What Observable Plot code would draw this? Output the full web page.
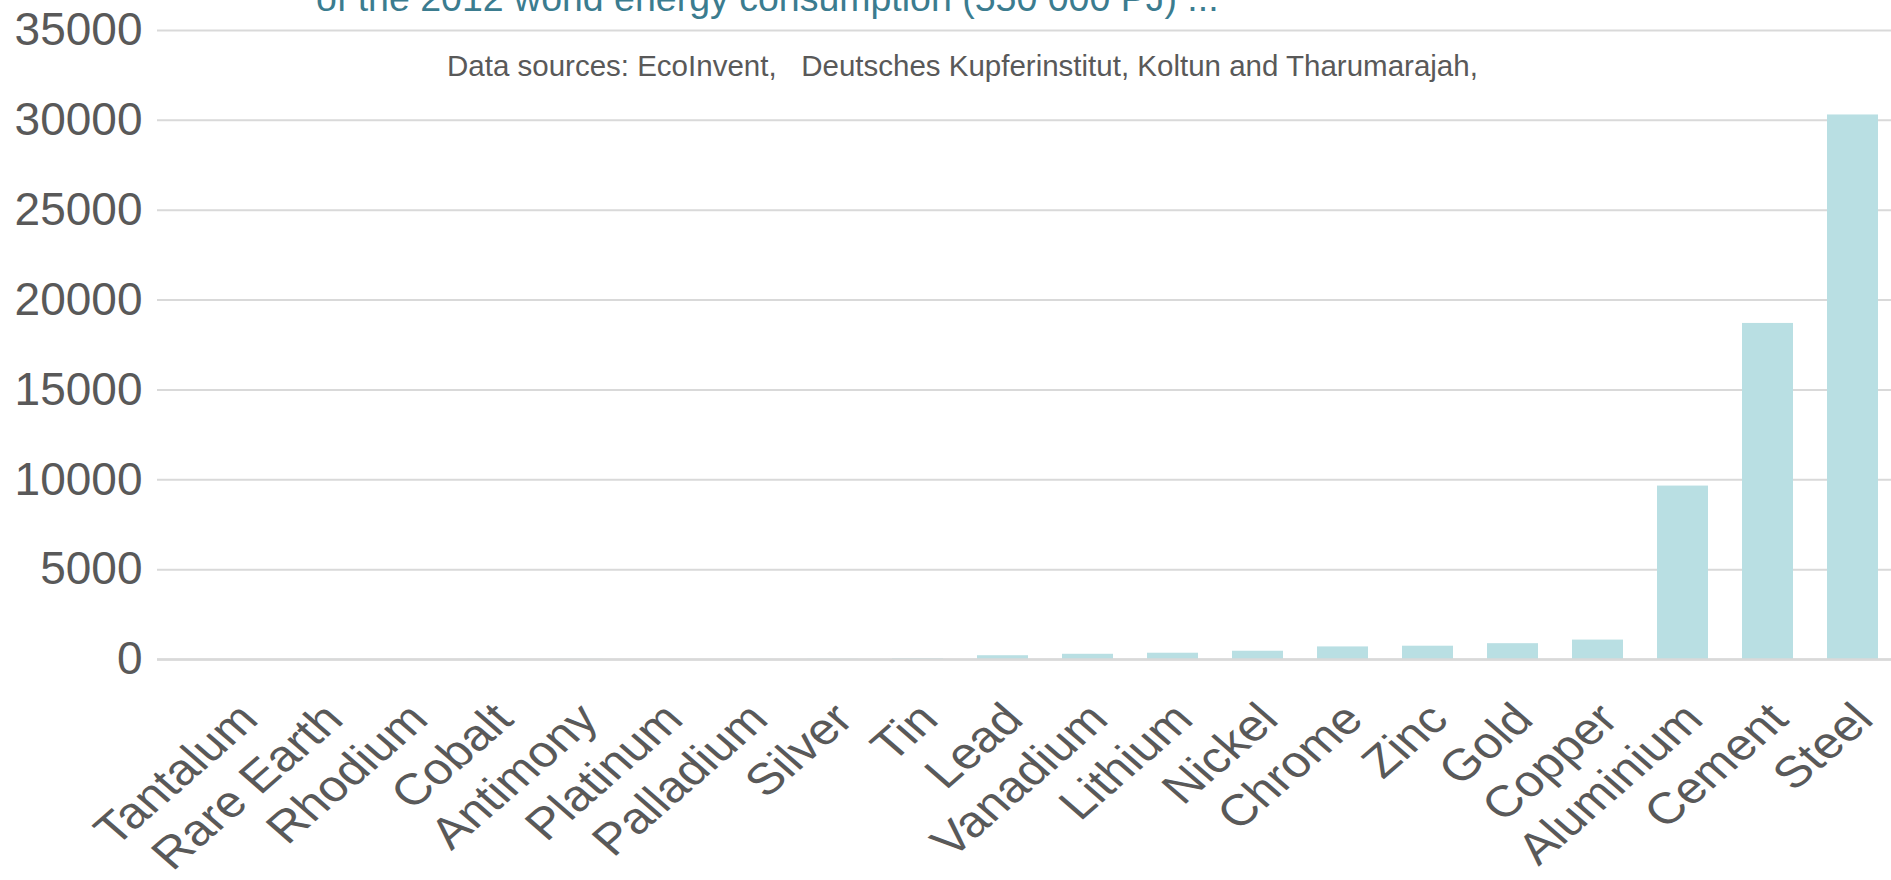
<!DOCTYPE html>
<html>
<head>
<meta charset="utf-8">
<script src="https://cdn.jsdelivr.net/npm/d3@7"></script>
<script src="https://cdn.jsdelivr.net/npm/@observablehq/plot@0.6"></script>
<style>
  html, body { margin: 0; padding: 0; background: #fff; overflow: hidden; }
  #wrap { position: relative; width: 1891px; height: 880px; font-family: "Liberation Sans", Arial, sans-serif; }
  #title { position: absolute; left: 316px; top: -20px; font-size: 37.5px; line-height: 1; color: #3b7c8f; white-space: nowrap; }
  #sub { position: absolute; left: 447px; top: 51px; font-size: 29.5px; line-height: 1; color: #595959; white-space: pre; }
</style>
</head>
<body>
<div id="wrap">
  <div id="chart"></div>
  <div id="title"></div>
  <div id="sub"></div>
</div>
<script>
const metals = ["Tantalum", "Rare Earth", "Rhodium", "Cobalt", "Antimony", "Platinum", "Palladium", "Silver", "Tin", "Lead",
                "Vanadium", "Lithium", "Nickel", "Chrome", "Zinc", "Gold", "Copper", "Aluminium", "Cement", "Steel"];
const energy = [2, 5, 3, 8, 10, 4, 5, 15, 40, 210,
                290, 350, 460, 700, 740, 880, 1080, 9650, 18700, 30300];
const yTicks = [0, 5000, 10000, 15000, 20000, 25000, 30000, 35000];
const titleText = "of the 2012 world energy consumption (550 000 PJ) ...";
const subtitleText = "Data sources: EcoInvent,   Deutsches Kupferinstitut, Koltun and Tharumarajah,";

const data = metals.map((m, i) => ({metal: m, value: energy[i]}));
const labelStretch = 1.15;

const chart = Plot.plot({
  width: 1891,
  height: 880,
  marginLeft: 157,
  marginRight: 0,
  marginTop: 30,
  marginBottom: 221,
  style: {fontFamily: "'Liberation Sans', Arial, sans-serif", color: "#595959", background: "#fff"},
  x: {domain: metals, range: [195, 1895], paddingInner: 0.4, paddingOuter: 0.2, label: null},
  y: {domain: [0, 35000], label: null},
  marks: [
    Plot.gridY(yTicks, {stroke: "#d9d9d9", strokeOpacity: 1, strokeWidth: 2}),
    Plot.barY(data, {x: "metal", y: "value", fill: "#b9dfe3"}),
    Plot.ruleY([0], {stroke: "#d9d9d9", strokeWidth: 2.5}),
    Plot.axisY(yTicks, {tickSize: 0, tickPadding: 15, fontSize: 46, tickFormat: d3.format("d"), label: null, fill: "#595959"}),
    Plot.axisX({tickSize: 0, tickRotate: -45, textAnchor: "end", lineAnchor: "top", tickPadding: 40, dx: -3,
                fontSize: 44, label: null, fill: "#595959"})
  ]
});

d3.select(chart).selectAll('g[aria-label="x-axis tick label"] text').each(function() {
  const t = this.getAttribute("transform") || "";
  this.setAttribute("transform", t.replace(/rotate\(/, `scale(${labelStretch},1) rotate(`));
});

document.getElementById("chart").appendChild(chart);
document.getElementById("title").textContent = titleText;
document.getElementById("sub").textContent = subtitleText;
</script>
</body>
</html>
